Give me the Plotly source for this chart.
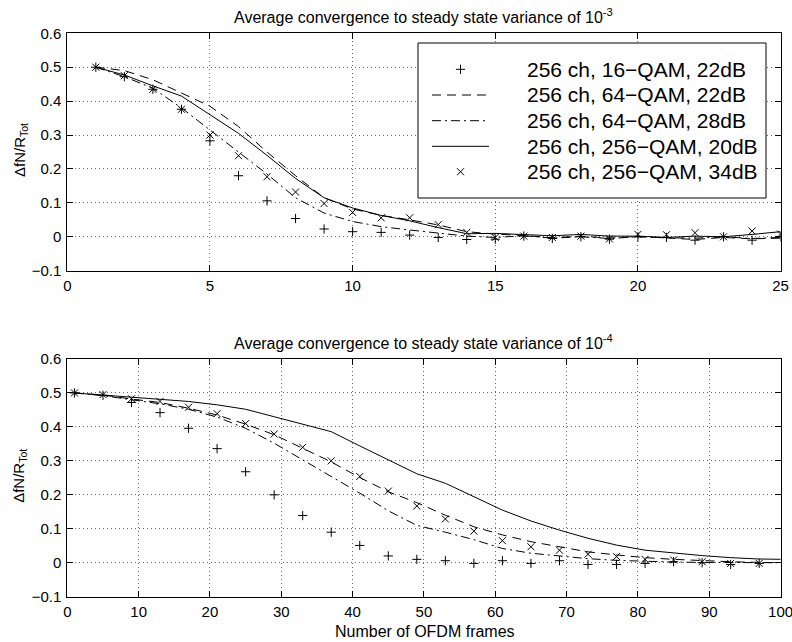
import plotly.graph_objects as go

# ---------------- data ----------------
series_names = [
    "256 ch, 16\u2212QAM, 22dB",
    "256 ch, 64\u2212QAM, 22dB",
    "256 ch, 64\u2212QAM, 28dB",
    "256 ch, 256\u2212QAM, 20dB",
    "256 ch, 256\u2212QAM, 34dB",
]

# Top panel: steady state variance 1e-3
x_top = [1, 2, 3, 4, 5, 6, 7, 8, 9, 10, 11, 12, 13, 14, 15, 16, 17, 18, 19, 20, 21, 22, 23, 24, 25]
top_16qam_22 = [0.500, 0.472, 0.435, 0.376, 0.283, 0.180, 0.106, 0.054, 0.023, 0.015, 0.013, 0.005, -0.002,
                -0.008, -0.007, 0.002, -0.005, 0.000, -0.007, 0.000, -0.002, -0.010, 0.000, -0.010, 0.000]
top_64qam_22 = [0.500, 0.490, 0.463, 0.425, 0.385, 0.325, 0.250, 0.180, 0.115, 0.082, 0.063, 0.050, 0.035,
                0.015, 0.008, 0.004, -0.003, 0.002, -0.004, 0.001, -0.004, -0.008, -0.002, -0.006, -0.004]
top_64qam_28 = [0.500, 0.472, 0.438, 0.380, 0.315, 0.250, 0.185, 0.115, 0.070, 0.045, 0.030, 0.020, 0.010,
                0.002, -0.002, 0.003, -0.004, 0.000, -0.005, 0.000, -0.003, -0.004, 0.000, -0.005, -0.002]
top_256qam_20 = [0.500, 0.477, 0.445, 0.415, 0.360, 0.305, 0.240, 0.172, 0.115, 0.085, 0.063, 0.047, 0.027,
                 0.009, 0.010, 0.007, 0.003, 0.007, 0.002, 0.002, -0.002, 0.002, 0.000, 0.007, 0.015]
top_256qam_34 = [0.500, 0.475, 0.435, 0.376, 0.300, 0.239, 0.177, 0.132, 0.098, 0.072, 0.056, 0.056, 0.036,
                 0.013, -0.002, 0.002, -0.002, 0.002, -0.006, 0.007, 0.006, 0.012, 0.000, 0.017, 0.008]

# Bottom panel: steady state variance 1e-4
x_bot_markers = [1, 5, 9, 13, 17, 21, 25, 29, 33, 37, 41, 45, 49, 53, 57, 61, 65, 69, 73, 77, 81, 85, 89, 93, 97]
x_bot_lines = [1, 5, 9, 13, 17, 21, 25, 29, 33, 37, 41, 45, 49, 53, 57, 61, 65, 69, 73, 77, 81, 85, 89, 93, 97, 101]
bot_16qam_22 = [0.500, 0.493, 0.472, 0.442, 0.396, 0.336, 0.268, 0.200, 0.139, 0.090, 0.051, 0.020, 0.010,
                0.006, -0.002, 0.006, -0.002, 0.006, -0.005, -0.005, -0.002, 0.003, 0.000, -0.005, -0.002]
bot_64qam_22 = [0.500, 0.494, 0.482, 0.472, 0.455, 0.435, 0.408, 0.377, 0.337, 0.297, 0.251, 0.209, 0.177,
                0.140, 0.106, 0.082, 0.062, 0.047, 0.032, 0.023, 0.015, 0.010, 0.006, 0.003, 0.001, 0.000]
bot_64qam_28 = [0.500, 0.492, 0.480, 0.468, 0.452, 0.429, 0.396, 0.352, 0.303, 0.254, 0.205, 0.153, 0.110,
                0.090, 0.068, 0.042, 0.028, 0.020, 0.012, 0.007, 0.004, 0.002, 0.001, 0.000, 0.000, 0.000]
bot_256qam_20 = [0.500, 0.494, 0.487, 0.480, 0.475, 0.465, 0.452, 0.430, 0.409, 0.386, 0.344, 0.303, 0.262,
                 0.234, 0.195, 0.155, 0.123, 0.096, 0.072, 0.052, 0.037, 0.028, 0.021, 0.015, 0.011, 0.010]
bot_256qam_34 = [0.500, 0.495, 0.483, 0.475, 0.458, 0.439, 0.410, 0.379, 0.340, 0.300, 0.254, 0.211, 0.167,
                 0.129, 0.093, 0.065, 0.047, 0.037, 0.025, 0.018, 0.010, 0.008, 0.003, -0.002, -0.002]

# ticks
y_tickvals = [-0.1, 0.0, 0.1, 0.2, 0.3, 0.4, 0.5, 0.6]
y_ticktext = ["\u22120.1", "0", "0.1", "0.2", "0.3", "0.4", "0.5", "0.6"]
x_top_tickvals = [0, 5, 10, 15, 20, 25]
x_top_ticktext = ["0", "5", "10", "15", "20", "25"]
x_bot_tickvals = [0, 10, 20, 30, 40, 50, 60, 70, 80, 90, 100]
x_bot_ticktext = ["0", "10", "20", "30", "40", "50", "60", "70", "80", "90", "100"]

title_top = "Average convergence to steady state variance of 10<sup>-3</sup>"
title_bot = "Average convergence to steady state variance of 10<sup>-4</sup>"
y_label = "\u0394fN/R<sub>Tot</sub>"
x_label = "Number of OFDM frames"

# ---------------- styling ----------------
W, H = 792, 642
FONT = "Liberation Sans, Arial, Helvetica, sans-serif"
DASH = "9px,6px"
DASHDOT = "9px,4px,2px,4px"


def px(x):
    return x / W


def py(y):
    return 1 - y / H


styles = [
    dict(mode="markers", marker=dict(symbol="cross-thin", size=6.6, color="black",
                                     line=dict(color="black", width=1))),
    dict(mode="lines", line=dict(color="black", width=1, dash=DASH)),
    dict(mode="lines", line=dict(color="black", width=1, dash=DASHDOT)),
    dict(mode="lines", line=dict(color="black", width=1)),
    dict(mode="markers", marker=dict(symbol="x-thin", size=7, color="black",
                                     line=dict(color="black", width=1))),
]

fig = go.Figure()

top_sets = [(x_top, top_16qam_22), (x_top, top_64qam_22), (x_top, top_64qam_28),
            (x_top, top_256qam_20), (x_top, top_256qam_34)]
bot_sets = [(x_bot_markers, bot_16qam_22), (x_bot_lines, bot_64qam_22), (x_bot_lines, bot_64qam_28),
            (x_bot_lines, bot_256qam_20), (x_bot_markers, bot_256qam_34)]

for i, (xs, ys) in enumerate(top_sets):
    fig.add_trace(go.Scatter(x=xs, y=ys, name=series_names[i], showlegend=False,
                             xaxis="x", yaxis="y", **styles[i]))
for i, (xs, ys) in enumerate(bot_sets):
    fig.add_trace(go.Scatter(x=xs, y=ys, name=series_names[i], showlegend=False,
                             xaxis="x2", yaxis="y2", **styles[i]))

# axes geometry (pixels)
AX_L, AX_R = 67.3, 780.6
TOP_T, TOP_B = 33.3, 270.7
BOT_T, BOT_B = 359.0, 596.7

common_axis = dict(
    automargin=False,
    showline=True, linecolor="black", linewidth=1, mirror="ticks",
    ticks="inside", ticklen=6, tickcolor="black", tickwidth=1,
    showgrid=True, gridcolor="#6a6a6a", gridwidth=1, griddash="1px,3px",
    zeroline=False, tickfont=dict(family=FONT, size=15, color="black"),
)

fig.update_layout(
    width=W, height=H,
    margin=dict(l=0, r=0, t=0, b=0, pad=0),
    paper_bgcolor="white", plot_bgcolor="white",
    showlegend=False,
    xaxis=dict(domain=[px(AX_L), px(AX_R)], anchor="y", range=[0, 25],
               tickmode="array", tickvals=x_top_tickvals, ticktext=x_top_ticktext,
               ticklabelstandoff=1, ticklabeloverflow="allow", **common_axis),
    yaxis=dict(domain=[py(TOP_B), py(TOP_T)], anchor="x", range=[-0.1, 0.6],
               tickmode="array", tickvals=y_tickvals, ticktext=y_ticktext,
               ticklabelstandoff=2, **common_axis),
    xaxis2=dict(domain=[px(AX_L), px(AX_R)], anchor="y2", range=[0, 100],
                tickmode="array", tickvals=x_bot_tickvals, ticktext=x_bot_ticktext,
                ticklabelstandoff=1, ticklabeloverflow="allow", **common_axis),
    yaxis2=dict(domain=[py(BOT_B), py(BOT_T)], anchor="x2", range=[-0.1, 0.6],
                tickmode="array", tickvals=y_tickvals, ticktext=y_ticktext,
                ticklabelstandoff=2, **common_axis),
)

cx = px((AX_L + AX_R) / 2)
annotations = [
    dict(text=title_top, x=cx, y=py(TOP_T - 17), xref="paper", yref="paper",
         xanchor="center", yanchor="middle", showarrow=False,
         font=dict(family=FONT, size=16, color="black")),
    dict(text=title_bot, x=cx, y=py(BOT_T - 17), xref="paper", yref="paper",
         xanchor="center", yanchor="middle", showarrow=False,
         font=dict(family=FONT, size=16, color="black")),
    dict(text=y_label, x=px(20), y=py((TOP_T + TOP_B) / 2 - 2), xref="paper", yref="paper",
         xanchor="center", yanchor="middle", textangle=-90, showarrow=False,
         font=dict(family=FONT, size=15, color="black")),
    dict(text=y_label, x=px(20), y=py((BOT_T + BOT_B) / 2 - 2), xref="paper", yref="paper",
         xanchor="center", yanchor="middle", textangle=-90, showarrow=False,
         font=dict(family=FONT, size=15, color="black")),
    dict(text=x_label, x=px(425), y=py(631), xref="paper", yref="paper",
         xanchor="center", yanchor="middle", showarrow=False,
         font=dict(family=FONT, size=16, color="black")),
]

# ---------------- legend (drawn in the top panel, MATLAB style) ----------------
LG_L, LG_R, LG_T, LG_B = 418, 766, 43, 198
row_y = [69.3, 95.0, 120.7, 146.3, 171.7]
SAMPLE_X0, SAMPLE_X1, SAMPLE_XC = 432, 489, 460.5
TEXT_X = 525

shapes = [dict(type="rect", xref="paper", yref="paper",
               x0=px(LG_L), x1=px(LG_R), y0=py(LG_B), y1=py(LG_T),
               line=dict(color="black", width=1), fillcolor="white", layer="above")]

for i, name in enumerate(series_names):
    ry = row_y[i]
    annotations.append(dict(text=name, x=px(TEXT_X), y=py(ry), xref="paper", yref="paper",
                            xanchor="left", yanchor="middle", showarrow=False,
                            font=dict(family=FONT, size=21, color="black")))
    if i == 0:
        h = 4.6
        shapes.append(dict(type="line", xref="paper", yref="paper", layer="above",
                           x0=px(SAMPLE_XC - h), x1=px(SAMPLE_XC + h), y0=py(ry), y1=py(ry),
                           line=dict(color="black", width=1)))
        shapes.append(dict(type="line", xref="paper", yref="paper", layer="above",
                           x0=px(SAMPLE_XC), x1=px(SAMPLE_XC), y0=py(ry - h), y1=py(ry + h),
                           line=dict(color="black", width=1)))
    elif i == 4:
        h = 3.5
        shapes.append(dict(type="line", xref="paper", yref="paper", layer="above",
                           x0=px(SAMPLE_XC - h), x1=px(SAMPLE_XC + h), y0=py(ry - h), y1=py(ry + h),
                           line=dict(color="black", width=1)))
        shapes.append(dict(type="line", xref="paper", yref="paper", layer="above",
                           x0=px(SAMPLE_XC - h), x1=px(SAMPLE_XC + h), y0=py(ry + h), y1=py(ry - h),
                           line=dict(color="black", width=1)))
    else:
        dash = {1: DASH, 2: DASHDOT, 3: "solid"}[i]
        shapes.append(dict(type="line", xref="paper", yref="paper", layer="above",
                           x0=px(SAMPLE_X0), x1=px(SAMPLE_X1), y0=py(ry), y1=py(ry),
                           line=dict(color="black", width=1, dash=dash)))

fig.update_layout(annotations=annotations, shapes=shapes)

fig.write_html(
    "out.html",
    config={"displayModeBar": False},
    post_script="document.body.style.margin='0';document.body.style.padding='0';"
                "document.documentElement.style.overflow='hidden';",
)
